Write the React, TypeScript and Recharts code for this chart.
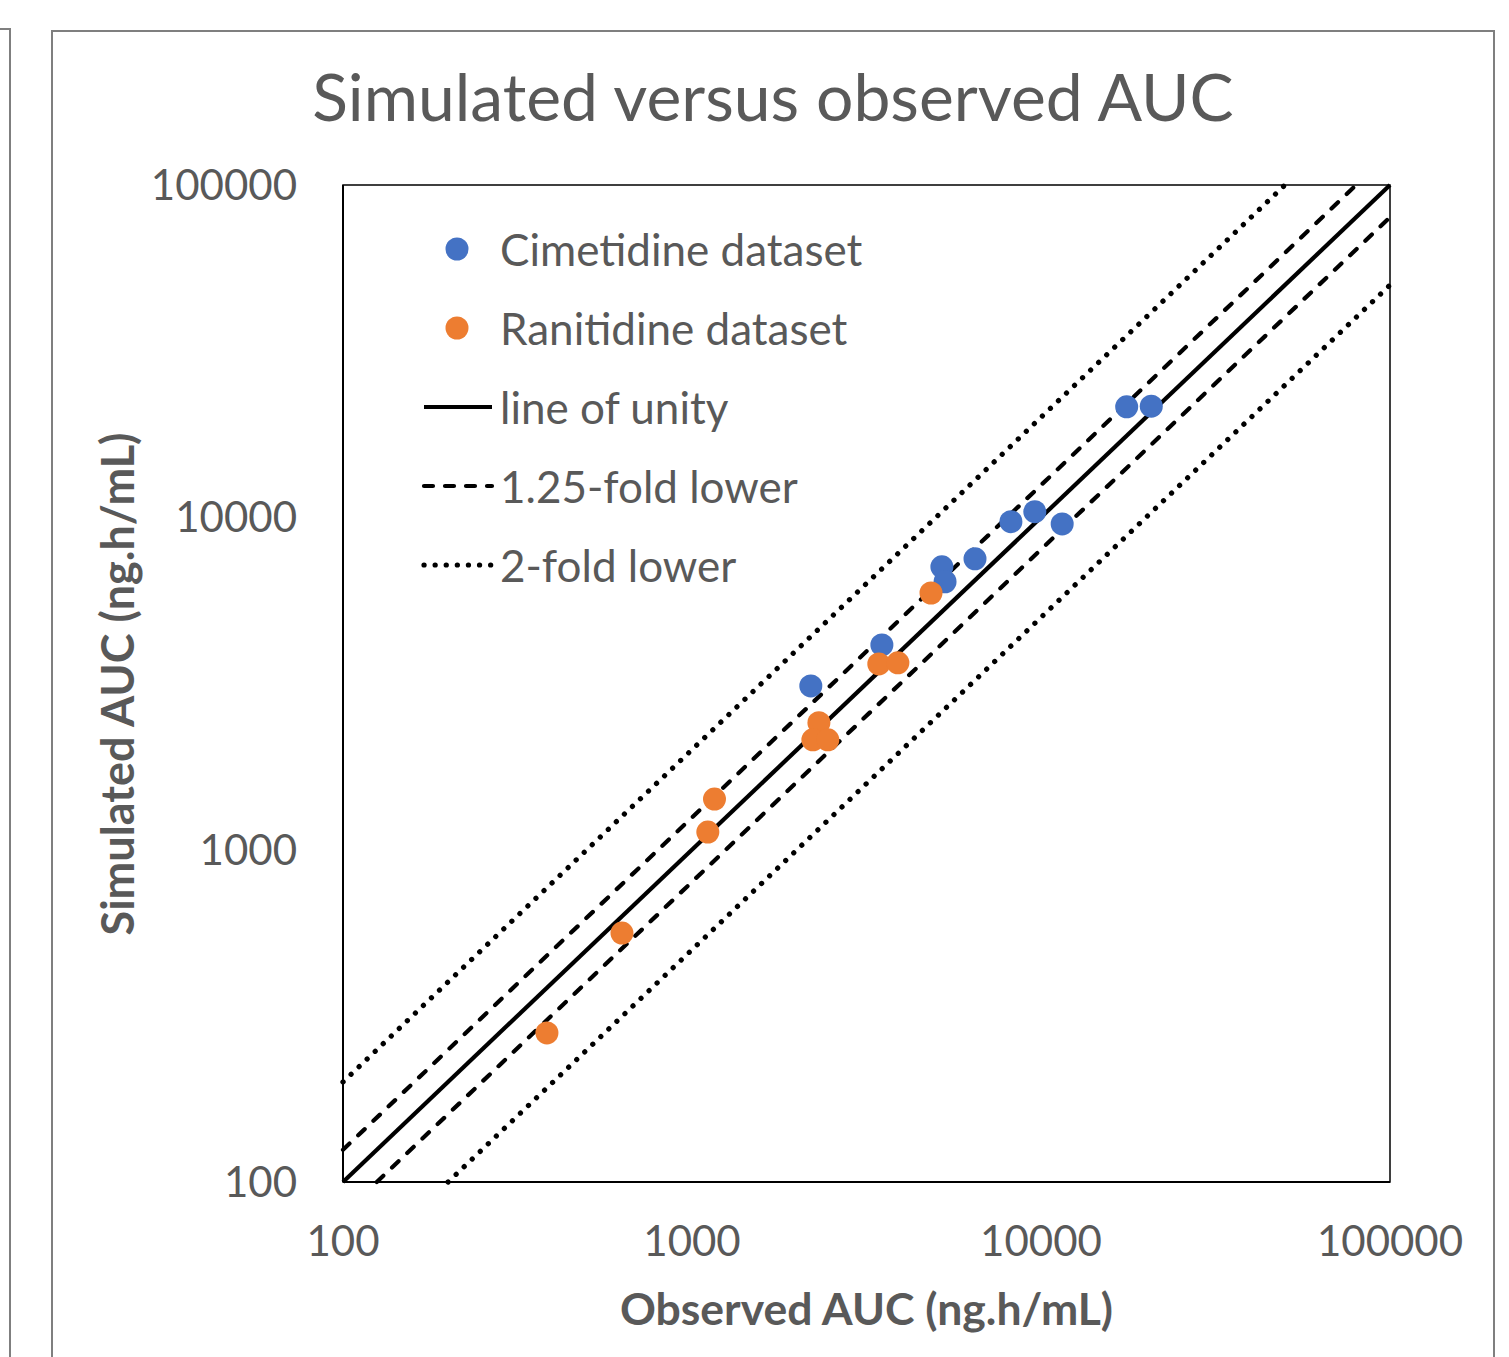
import React from 'react';
import { ScatterChart, Scatter, XAxis, YAxis, ReferenceArea, ReferenceLine } from 'recharts';

const axisTicks = [100, 1000, 10000, 100000];

const cimetidineObserved = [17600, 20700, 8200, 9600, 11500, 6470, 5200, 5310, 3500, 2190];
const cimetidineSimulated = [21500, 21600, 9700, 10400, 9550, 7500, 7100, 6400, 4130, 3110];
const ranitidineObserved = [4840, 3430, 3890, 2310, 2220, 2450, 1160, 1110, 630, 384];
const ranitidineSimulated = [5920, 3620, 3650, 2410, 2140, 2140, 1420, 1130, 561, 281];

// reference lines (two endpoints each, clipped to the 100–100000 box)
const unityLine = [{ x: 100, y: 100 }, { x: 100000, y: 100000 }];
const upper125Line = [{ x: 100, y: 125 }, { x: 80000, y: 100000 }];
const lower125Line = [{ x: 125, y: 100 }, { x: 100000, y: 80000 }];
const upper2Line = [{ x: 100, y: 200 }, { x: 50000, y: 100000 }];
const lower2Line = [{ x: 200, y: 100 }, { x: 100000, y: 50000 }];

const BLUE = '#4472C4';
const ORANGE = '#ED7D31';
const GREY = '#595959';
const FONT = 'Lato, "Open Sans", sans-serif';

const zip = (xs: number[], ys: number[]) => xs.map((x, i) => ({ x, y: ys[i] }));
const cimetidine = zip(cimetidineObserved, cimetidineSimulated);
const ranitidine = zip(ranitidineObserved, ranitidineSimulated);

const solidStyle = { stroke: '#000', strokeWidth: 4.2 };
const dashStyle = { stroke: '#000', strokeWidth: 4.2, strokeDasharray: '9 12', strokeLinecap: 'round' as const };
const dotStyle = { stroke: '#000', strokeWidth: 5.2, strokeDasharray: '0.1 11', strokeLinecap: 'round' as const };

const legendRows = [
  { label: 'Cimetidine dataset', color: BLUE, line: null },
  { label: 'Ranitidine dataset', color: ORANGE, line: null },
  { label: 'line of unity', color: '', line: solidStyle },
  { label: '1.25-fold lower', color: '', line: dashStyle },
  { label: '2-fold lower', color: '', line: dotStyle },
];

function LegendBox() {
  return (
    <div style={{ position: 'absolute', left: 420, top: 209 }}>
      {legendRows.map((r) => (
        <div key={r.label} style={{ display: 'flex', alignItems: 'center', height: 79 }}>
          <svg width={76} height={30} style={{ marginRight: 4 }}>
            {r.line ? (
              <line x1={4} y1={15} x2={72} y2={15} {...r.line} />
            ) : (
              <circle cx={37} cy={15} r={11.5} fill={r.color} />
            )}
          </svg>
          <span style={{ fontSize: 44, color: GREY, fontFamily: FONT, lineHeight: '52px' }}>{r.label}</span>
        </div>
      ))}
    </div>
  );
}

export default function App() {
  return (
    <div
      style={{
        position: 'absolute',
        left: 0,
        top: 0,
        width: 1509,
        height: 1357,
        overflow: 'hidden',
        background: '#fff',
        fontFamily: FONT,
      }}
    >
      {/* neighbouring chart frame and this chart's frame */}
      <div style={{ position: 'absolute', left: -400, top: 28, width: 407, height: 1400, border: '2px solid #7f7f7f' }} />
      <div style={{ position: 'absolute', left: 51, top: 30, width: 1440, height: 1400, border: '2px solid #7f7f7f' }} />

      <div
        style={{
          position: 'absolute',
          left: 0,
          width: 1546,
          top: 56,
          textAlign: 'center',
          fontSize: 66,
          color: GREY,
        }}
      >
        Simulated versus observed AUC
      </div>

      <ScatterChart
        width={1509}
        height={1357}
        margin={{ top: 185, right: 119, bottom: 115, left: 243 }}
        style={{ position: 'absolute', left: 0, top: 0 }}
      >
        <XAxis
          type="number"
          dataKey="x"
          scale="log"
          domain={[100, 100000]}
          ticks={axisTicks}
          allowDataOverflow
          height={60}
          tickLine={false}
          tickMargin={38}
          axisLine={{ stroke: '#000', strokeWidth: 2 }}
          tick={{ fill: GREY, fontSize: 42, fontFamily: FONT }}
        />
        <YAxis
          type="number"
          dataKey="y"
          scale="log"
          domain={[100, 100000]}
          ticks={axisTicks}
          allowDataOverflow
          width={100}
          tickLine={false}
          tickMargin={40}
          axisLine={{ stroke: '#000', strokeWidth: 2 }}
          tick={{ fill: GREY, fontSize: 42, fontFamily: FONT }}
        />
        <ReferenceArea x1={100} x2={100000} y1={100} y2={100000} fill="none" stroke="#000" strokeWidth={1.5} />
        <ReferenceLine segment={upper2Line} {...dotStyle} />
        <ReferenceLine segment={lower2Line} {...dotStyle} />
        <ReferenceLine segment={upper125Line} {...dashStyle} />
        <ReferenceLine segment={lower125Line} {...dashStyle} />
        <ReferenceLine segment={unityLine} {...solidStyle} />
        <Scatter
          data={cimetidine}
          fill={BLUE}
          shape={(p: any) => <circle cx={p.cx} cy={p.cy} r={11.5} fill={BLUE} />}
          isAnimationActive={false}
        />
        <Scatter
          data={ranitidine}
          fill={ORANGE}
          shape={(p: any) => <circle cx={p.cx} cy={p.cy} r={11.5} fill={ORANGE} />}
          isAnimationActive={false}
        />
      </ScatterChart>

      <LegendBox />

      <div
        style={{
          position: 'absolute',
          left: 343,
          width: 1047,
          top: 1281,
          textAlign: 'center',
          fontSize: 44.5,
          fontWeight: 'bold',
          color: GREY,
        }}
      >
        Observed AUC (ng.h/mL)
      </div>
      <div
        style={{
          position: 'absolute',
          left: 117 - 300,
          top: 684 - 28,
          width: 600,
          height: 56,
          lineHeight: '56px',
          textAlign: 'center',
          fontSize: 45,
          fontWeight: 'bold',
          color: GREY,
          transform: 'rotate(-90deg)',
        }}
      >
        Simulated AUC (ng.h/mL)
      </div>
    </div>
  );
}
